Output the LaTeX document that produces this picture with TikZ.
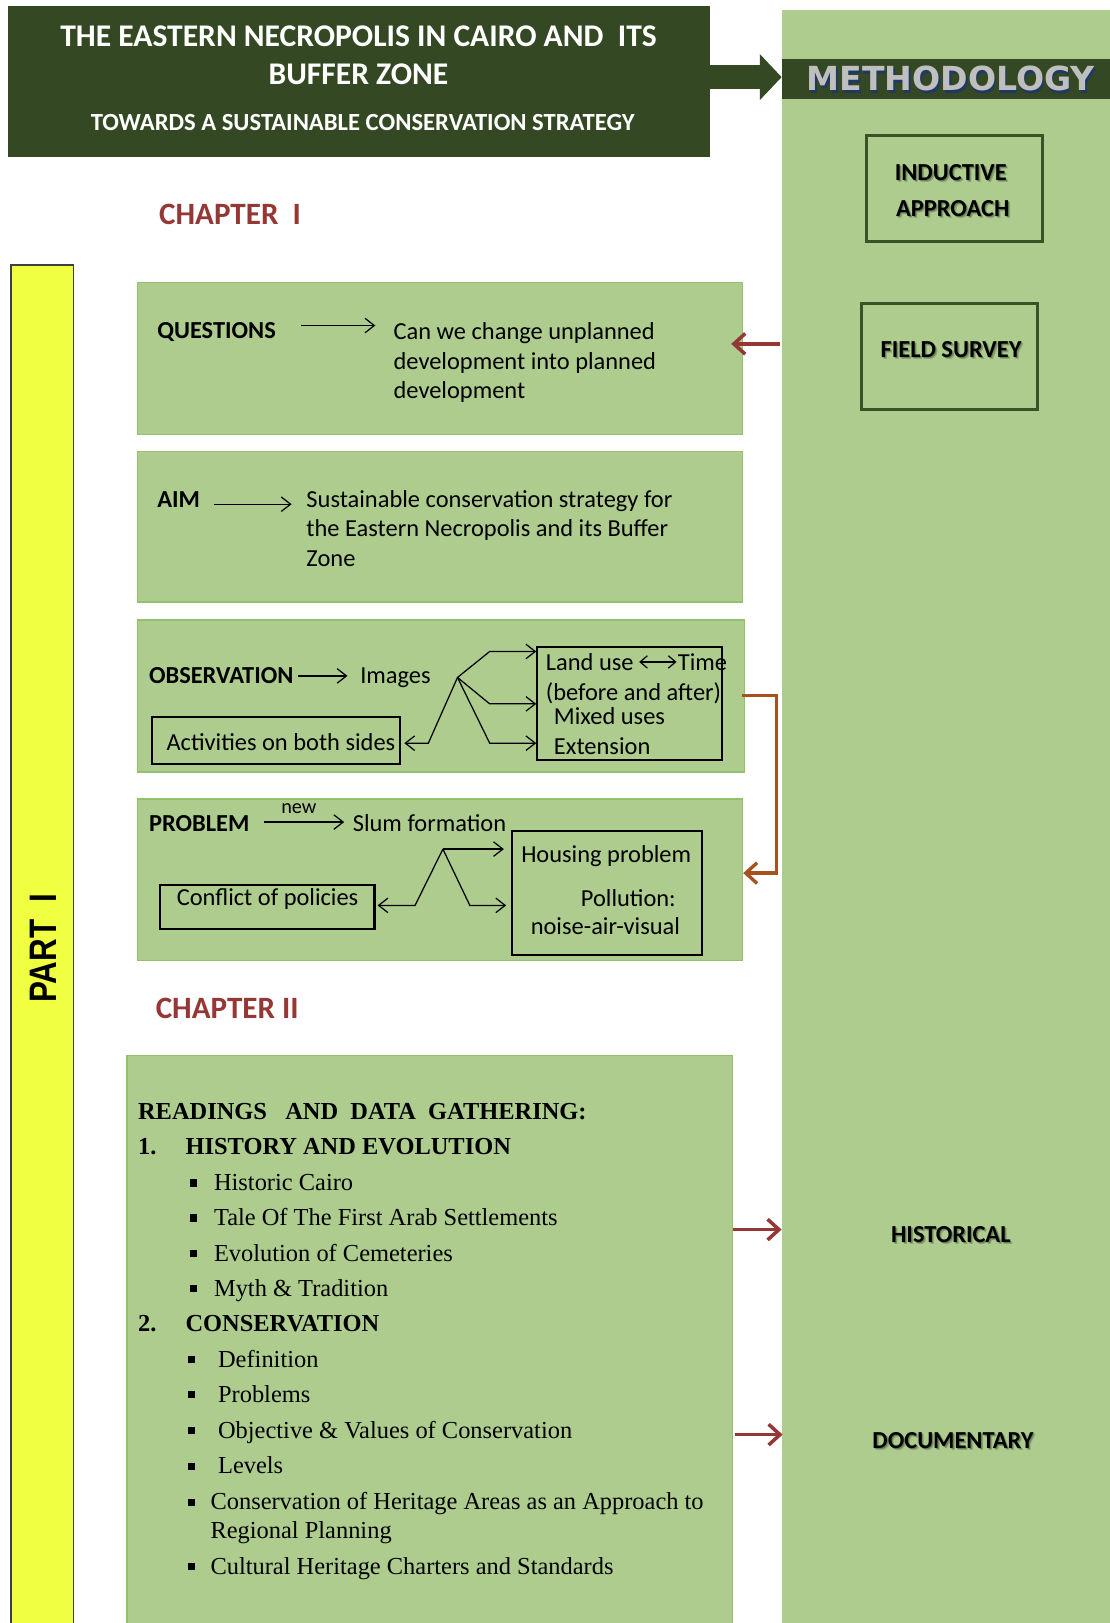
\documentclass[tikz,border=0pt]{standalone}
\usepackage{fontspec}
\usepackage{graphicx}
\setmainfont{Carlito}
\newfontfamily\timesface{Liberation Serif}
\newfontfamily\arialface{Liberation Sans}
\newfontfamily\heavyface{DejaVu Sans}
\usetikzlibrary{arrows.meta,fit}

\definecolor{darkolive}{HTML}{344923}
\definecolor{sage}{HTML}{ADCC8E}
\definecolor{sageedge}{HTML}{95C06B}
\definecolor{boxedge}{HTML}{3A5226}
\definecolor{brick}{HTML}{953735}
\definecolor{rust}{HTML}{A5521E}
\definecolor{lemon}{HTML}{F0FF41}
\definecolor{silver}{HTML}{BFBFBF}
\definecolor{navyshade}{HTML}{203864}

\newcommand\bodysize{\fontsize{11.8}{14}\selectfont}
\newcommand\sersize{\timesface\fontsize{11.8}{14}\selectfont}

% label with a soft grey shadow: name, position, text
\newcommand\shadowed[3]{%
  \node[methtxt, text=black, opacity=.18] (#1-s2) at ([shift={(2,2)}]#2) {#3};
  \node[methtxt, text=black, opacity=.25] (#1-s1) at ([shift={(1,1)}]#2) {#3};
  \node[methtxt] (#1) at (#2) {#3};}

\tikzset{
  sagebox/.style={fill=sage, draw=sageedge, line width=0.75pt, inner sep=0pt},
  inkbox/.style={draw=black, line width=1pt, inner sep=0pt},
  methbox/.style={draw=boxedge, line width=1.4pt, inner sep=0pt},
  methtxt/.style={inner sep=0pt, font=\bodysize\bfseries},
  txt/.style={anchor=base west, inner sep=0pt, font=\bodysize},
  capsbold/.style={anchor=west, inner sep=0pt, font=\bodysize\bfseries},
  sertxt/.style={anchor=base west, inner sep=0pt, font=\sersize},
  serbold/.style={anchor=base west, inner sep=0pt, font=\sersize\bfseries},
  square/.style={fill=black, inner sep=0pt, minimum size=3.4pt},
  titletxt/.style={inner sep=0pt, text=white, font=\fontsize{15.25}{18}\selectfont\bfseries},
  chaptertxt/.style={inner sep=0pt, text=brick, font=\fontsize{15}{18}\selectfont\bfseries},
  thinarrow/.style={line width=0.6pt, -{Straight Barb[length=4.5pt,width=7pt]}},
  twoway/.style={line width=0.6pt, {Straight Barb[length=3.5pt,width=6pt]}-{Straight Barb[length=3.5pt,width=6pt]}},
  redarrow/.style={draw=brick, line width=1.7pt, -{Straight Barb[length=5.5pt,width=10pt]}},
  rustarrow/.style={draw=rust, line width=1.6pt, -{Straight Barb[length=5.5pt,width=10pt]}},
  bigarrow/.style={draw=darkolive, line width=11.75pt, -{Triangle[length=10.5pt,width=22.2pt,line width=0pt]}},
}

\begin{document}
\begin{tikzpicture}[x=0.5pt,y=-0.5pt]
\useasboundingbox (0,0) rectangle (1072,1568);

% ---------- methodology column ----------
\node[fill=sage, inner sep=0pt, fit={(755.5,9.7)(1072,1568)}] (method) {};
\node[fill=darkolive, inner sep=0pt, fit={(755.5,57.3)(1072,95.9)}] (band) {};
\node[inner sep=0pt, text=navyshade, font=\heavyface\bfseries\fontsize{16}{18}\selectfont] (methshade) at (920,78.4) {METHODOLOGY};
\node[inner sep=0pt, text=silver, font=\heavyface\bfseries\fontsize{16}{18}\selectfont] (methword) at (918.4,76) {METHODOLOGY};

\node[methbox, fit={(837.5,130.5)(1007,233.5)}] (inductive) {};
\shadowed{induct1}{918.6,166.8}{INDUCTIVE}
\shadowed{induct2}{920.5,201.2}{APPROACH}
\node[methbox, fit={(832.2,293)(1002.2,396)}] (survey) {};
\shadowed{surveytxt}{918.8,337.4}{FIELD SURVEY}
\shadowed{historical}{918.6,1192.8}{HISTORICAL}
\shadowed{documentary}{920.7,1391.4}{DOCUMENTARY}

% ---------- title ----------
\node[fill=darkolive, inner sep=0pt, fit={(8.2,5.8)(685.7,152)}] (title) {};
\node[titletxt] (title1) at (346.3,35.4) {THE EASTERN NECROPOLIS IN CAIRO AND\ \ ITS};
\node[titletxt] (title2) at (346.3,71.5) {BUFFER ZONE};
\node[titletxt, font=\fontsize{11.9}{14}\selectfont\bfseries] (title3) at (350.4,118.5) {TOWARDS A SUSTAINABLE CONSERVATION STRATEGY};
\draw[bigarrow] (title.east |- 0,74.5) -- (band.west |- 0,74.5);

% ---------- part bar and chapter heads ----------
\node[fill=lemon, draw=black!75, line width=0.6pt, inner sep=0pt, fit={(10.6,256)(70.8,1600)}] (partbar) {};
\node[inner sep=0pt, rotate=90, font=\arialface\bfseries\fontsize{18.5}{20}\selectfont] (parttxt) at (41.5,915.9) {\scalebox{0.82}[1]{PART\ \ I}};
\node[chaptertxt] (chap1) at (222.2,207.6) {CHAPTER\ \ I};
\node[chaptertxt] (chap2) at (219.5,974) {CHAPTER II};

% ---------- questions ----------
\node[sagebox, fit={(132.8,273)(717.3,419.8)}] (questions) {};
\node[capsbold] (qlabel) at (151.6,320.3) {QUESTIONS};
\node[txt] (qline1) at (379.9,327.8) {Can we change unplanned};
\node[txt] (qline2) at (379.9,356.8) {development into planned};
\node[txt] (qline3) at (379.9,384.8) {development};
\draw[thinarrow] ([shift={(24,-5.8)}]qlabel.east) -- ([shift={(-17.3,-5.8)}]qlabel.east -| qline1.west);

% ---------- aim ----------
\node[sagebox, fit={(132.8,436.2)(717.3,581.7)}] (aim) {};
\node[capsbold] (aimlabel) at (151.6,483) {AIM};
\node[txt] (aline1) at (295.7,490.5) {Sustainable conservation strategy for};
\node[txt] (aline2) at (295.7,518.7) {the Eastern Necropolis and its Buffer};
\node[txt] (aline3) at (295.7,547.1) {Zone};
\draw[thinarrow] ([shift={(13,4.1)}]aimlabel.east) -- ([shift={(-14,4.1)}]aimlabel.east -| aline1.west);

% ---------- observation ----------
\node[sagebox, fit={(132.8,598.8)(719.3,745.6)}] (observation) {};
\node[capsbold] (obslabel) at (143.6,653) {OBSERVATION};
\node[txt] (images) at (347.7,660.5) {Images};
\draw[thinarrow] ([xshift=2pt]obslabel.east) -- ([xshift=-6pt]obslabel.east -| images.west);

\node[inkbox, fit={(146.4,692.8)(386.6,737.9)}] (activities) {};
\node[txt] (acttxt) at (160.5,725.5) {Activities on both sides};

\node[inkbox, fit={(519.1,625.2)(697.3,734)}] (landuse) {};
\node[txt] (lu1) at (527,647.5) {Land use};
\node[txt] (lu1b) at (654.6,647.5) {Time};
\node[txt] (lu2) at (527,676.5) {(before and after)};
\node[txt] (lu3) at (534.8,699.5) {Mixed uses};
\node[txt] (lu4) at (534.8,728.5) {Extension};
\draw[twoway] ([shift={(5,-8)}]lu1.base east) -- ([shift={(-1,-8)}]lu1b.base west);

\coordinate (ofan) at (442,654.5);
\draw[thinarrow] (ofan) -- (473.1,629.4) -- (landuse.west |- 0,629.4);
\draw[thinarrow] (ofan) -- (473.1,680) -- (landuse.west |- 0,680);
\draw[thinarrow] (ofan) -- (473.1,718) -- (landuse.west |- 0,718);
\draw[thinarrow] (ofan) -- (413.8,718) -- ([xshift=1.5pt]activities.east |- 0,718);

% ---------- problem ----------
\node[sagebox, fit={(132.8,772)(717.3,927.8)}] (problem) {};
\node[capsbold] (problabel) at (143.6,796) {PROBLEM};
\node[txt] (slum) at (340.5,803.5) {Slum formation};
\node[inner sep=0pt, font=\fontsize{9.8}{11}\selectfont] (newtag) at (288.7,781.7) {new};
\draw[thinarrow] ([xshift=7pt]problabel.east |- 0,794.2) -- ([xshift=-4pt]slum.west |- 0,794.2);

\node[inkbox, fit={(494.8,802.6)(678.1,923)}] (housing) {};
\node[txt] (hs1) at (503.2,833) {Housing problem};
\node[txt] (hs2) at (560.8,875.5) {Pollution:};
\node[txt] (hs3) at (512.4,903) {noise-air-visual};

\node[inkbox, fit={(154.4,854.8)(361.8,897.3)}] (conflict) {};
\node[txt] (conftxt) at (170.4,875) {Conflict of policies};

\coordinate (pfan) at (427.9,820.3);
\draw[thinarrow] (pfan) -- ([xshift=-3.5pt]housing.west |- pfan);
\draw[thinarrow] (pfan) -- (453.9,874.7) -- ([xshift=-2.4pt]housing.west |- 0,874.7);
\draw[thinarrow] (pfan) -- (401,874.7) -- ([xshift=1pt]conflict.east |- 0,874.7);

% observation feeds the problem statement
\draw[rustarrow] ([xshift=-1.5pt]observation.east |- 0,672.2) -- (750.2,672.2) |- (problem.east |- 0,843.5);

% ---------- readings ----------
\node[sagebox, fit={(122.8,1019.9)(707.8,1600)}] (readings) {};
\node[serbold] (rhead) at (133,1081.5) {READINGS\ \ \ AND\ \ DATA\ \ GATHERING:};
\node[serbold] (n1) at (133,1115.3) {1.};
\node[serbold] (h1) at (178.9,1115.3) {HISTORY AND EVOLUTION};
\node[square] (b11) at (186.6,1142.9) {};
\node[sertxt] (t11) at (206.4,1150.4) {Historic Cairo};
\node[square] (b12) at (186.6,1176.7) {};
\node[sertxt] (t12) at (206.4,1184.2) {Tale Of The First Arab Settlements};
\node[square] (b13) at (186.6,1211.1) {};
\node[sertxt] (t13) at (206.4,1218.6) {Evolution of Cemeteries};
\node[square] (b14) at (186.6,1245.2) {};
\node[sertxt] (t14) at (206.4,1252.7) {Myth \& Tradition};
\node[serbold] (n2) at (133,1286.5) {2.};
\node[serbold] (h2) at (178.9,1286.5) {CONSERVATION};
\node[square] (b21) at (184.7,1313.5) {};
\node[sertxt] (t21) at (210.3,1321) {Definition};
\node[square] (b22) at (184.7,1347.3) {};
\node[sertxt] (t22) at (210.3,1354.8) {Problems};
\node[square] (b23) at (184.7,1381.8) {};
\node[sertxt] (t23) at (210.3,1389.3) {Objective \& Values of Conservation};
\node[square] (b24) at (184.7,1416.5) {};
\node[sertxt] (t24) at (210.3,1424) {Levels};
\node[square] (b25) at (184.7,1451.3) {};
\node[sertxt] (t25) at (203,1458.8) {Conservation of Heritage Areas as an Approach to};
\node[sertxt] (t25b) at (203,1486.1) {Regional Planning};
\node[square] (b26) at (184.7,1513.7) {};
\node[sertxt] (t26) at (203,1521.2) {Cultural Heritage Charters and Standards};

% ---------- links from the methodology column ----------
\draw[redarrow] ([xshift=-1pt]method.west |- 0,332.2) -- ([xshift=-5.8pt]questions.east |- 0,332.2);
\draw[redarrow] (readings.east |- 0,1187.9) -- (method.west |- 0,1187.9);
\draw[redarrow] ([xshift=1pt]readings.east |- 0,1386) -- ([xshift=0.5pt]method.west |- 0,1386);

\end{tikzpicture}
\end{document}
